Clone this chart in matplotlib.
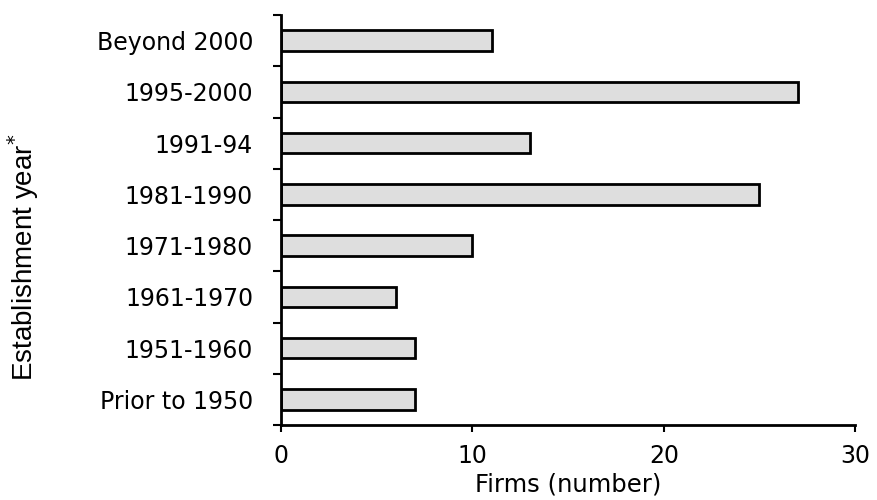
import matplotlib
matplotlib.use("Agg")
import matplotlib.pyplot as plt
import numpy as np

# establishment year classes, bottom to top
periods = ["Prior to 1950", "1951-1960", "1961-1970", "1971-1980",
           "1981-1990", "1991-94", "1995-2000", "Beyond 2000"]
firms = [7, 7, 6, 10, 25, 13, 27, 11]
xticks = [0, 10, 20, 30]

plt.rcParams['font.family'] = ['DejaVu Sans']

fig = plt.figure(figsize=(8.78, 5), dpi=100)
ax = fig.add_axes([0.320, 0.150, 0.654, 0.820])

y = np.arange(len(periods))
ax.barh(y, firms, height=0.4, color='#dedede', edgecolor='black', linewidth=2)

ax.set_xlim(0, 30)
ax.set_ylim(-0.5, len(periods) - 0.5)
ax.set_xticks(xticks)
ax.set_xticklabels([str(v) for v in xticks], fontsize=17)
ax.set_yticks(y)
ax.set_yticklabels(periods, fontsize=17)
ax.set_yticks(np.arange(len(periods) + 1) - 0.5, minor=True)

ax.tick_params(axis='y', which='major', length=0, pad=20)
ax.tick_params(axis='y', which='minor', length=6, width=1.5, direction='out')
ax.tick_params(axis='x', which='major', length=5, width=1.5, direction='out', pad=9)

for s in ['top', 'right']:
    ax.spines[s].set_visible(False)
for s in ['left', 'bottom']:
    ax.spines[s].set_linewidth(2)

ax.set_xlabel("Firms (number)", fontsize=17.5, labelpad=3)
ax.set_ylabel("Establishment year$^{*}$", fontsize=20,
              family=['Liberation Sans', 'DejaVu Sans'])
ax.yaxis.set_label_coords(-0.418, 0.41)

fig.savefig("out.png", dpi=100)
